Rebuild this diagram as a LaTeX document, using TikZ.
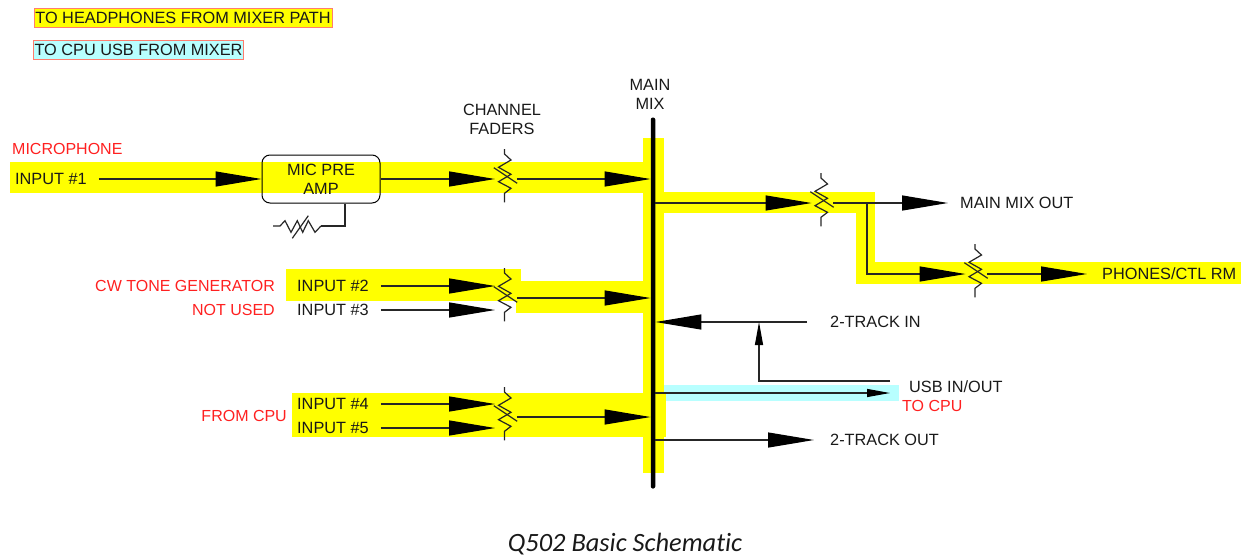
\documentclass[tikz,border=0pt]{standalone}
\usepackage{fontspec}
\setmainfont{Liberation Sans}
\newfontfamily\captionfont[Ligatures=NoCommon]{Carlito}
\usetikzlibrary{arrows.meta,positioning,calc}
\definecolor{pathyellow}{RGB}{255,255,0}
\definecolor{pathcyan}{RGB}{184,255,255}
\definecolor{legendedge}{RGB}{255,125,110}
\definecolor{labelred}{RGB}{255,32,32}
\newcommand{\fader}[3]{%
	\node [faderbox] (#1) at (#2+1.5,#3) {};
	\draw [wire, shift={(#2,#3)}] (0,-30) -- (0,-25) -- (6.5,-19) -- (-6,-11.7) -- (6.5,-4.7) -- (-6,2.7) -- (6.5,9.3) -- (0,14.3) -- (0,23.3);
	\draw [wire, shift={(#2,#3)}] (-10.7,-11.3) -- (12.7,4.3);
}
\begin{document}
\begin{tikzpicture}[x=1pt, y=-1pt,
		every node/.style={font=\fontsize{16.3}{19}\selectfont, text=black!90},
		wire/.style={line width=1.2pt, draw=black!85},
		bigarrow/.style={wire, -{Triangle[length=46pt,width=15pt,black]}},
		smallarrow/.style={wire, -{Triangle[length=23pt,width=8pt,black]}},
		band/.style={fill=pathyellow},
		usbband/.style={fill=pathcyan},
		faderbox/.style={rectangle, inner sep=0pt, minimum width=21.5pt, minimum height=40pt},
		inlabel/.style={anchor=west, inner ysep=0pt, inner xsep=12pt},
		outlabel/.style={anchor=west, inner ysep=0pt},
		redlabel/.style={inner sep=0pt, text=labelred, font=\fontsize{16}{19}\selectfont},
		legend/.style={rectangle, inner sep=0pt, minimum height=19pt, line width=1pt, draw=legendedge},
		ampbox/.style={rectangle, draw, line width=1pt, rounded corners=8pt, align=center, minimum width=118pt, minimum height=48pt, inner sep=0pt},
		busbar/.style={rectangle, fill=black, rounded corners=2pt, inner sep=0pt, minimum width=4.5pt, minimum height=371pt}]

	\useasboundingbox (0,0) rectangle (1244,557);

	\fill [usbband] (660,385) rectangle (899,401);
	\fill [band] (10,162) rectangle (643,193);
	\fill [band] (286,269) rectangle (521,301);
	\fill [band] (516,281) rectangle (643,313);
	\fill [band] (292,393) rectangle (666,437);
	\fill [band] (643,138) rectangle (664,473);
	\fill [band] (664,192) rectangle (875,213);
	\fill [band] (856,192) rectangle (875,284);
	\fill [band] (856,262) rectangle (1241,284);

	\node [legend, fill=pathyellow, minimum width=298pt] (legendphones) at (183,18) {TO HEADPHONES FROM MIXER PATH};
	\node [legend, fill=pathcyan, minimum width=210pt] (legendusb) at (138.5,50) {TO CPU USB FROM MIXER};

	\node [busbar] (mainbus) at (653,303) {};
	\node [align=center, inner sep=0pt] (mainmix) at (650,94) {MAIN\\MIX};
	\node [align=center, inner sep=0pt] (channelfaders) at (502,119) {CHANNEL\\FADERS};

	\node [redlabel, anchor=west] (microphone) at (12,148.5) {MICROPHONE};
	\node [redlabel, anchor=east] (cwtone) at (275,285.5) {CW TONE GENERATOR};
	\node [redlabel, anchor=east] (notused) at (275,309.5) {NOT USED};
	\node [redlabel, anchor=east] (fromcpu) at (287,415.5) {FROM CPU};
	\node [redlabel, anchor=west] (tocpu) at (902,405.5) {TO CPU};

	\node [inlabel] (input1) at (3,179) {INPUT \#1};
	\node [inlabel] (input2) at (285,286) {INPUT \#2};
	\node [inlabel] (input3) at (285,310) {INPUT \#3};
	\node [inlabel] (input4) at (285,404) {INPUT \#4};
	\node [inlabel] (input5) at (285,428) {INPUT \#5};

	\node [ampbox] (preamp) at (321,179) {MIC PRE\\AMP};

	\fader{fader1}{504.5}{179}
	\fader{fader2}{504.5}{298}
	\fader{fader3}{504.5}{417}
	\fader{fader4}{821}{203}
	\fader{fader5}{975}{274}

	\node [outlabel, inner xsep=12pt] (mainout) at (948,203) {MAIN MIX OUT};
	\node [outlabel, inner xsep=15pt] (phones) at (1087,274) {PHONES/CTL RM};
	\node [outlabel, inner xsep=23pt] (trackin) at (807,322) {2-TRACK IN};
	\node [outlabel, inner xsep=19pt] (usbio) at (890,387) {USB IN/OUT};
	\node [outlabel, inner xsep=16pt] (trackout) at (814,440) {2-TRACK OUT};

	\coordinate (split) at (867,203);
	\coordinate (tap) at (759,322);
	\coordinate (usbreturn) at (890,381);
	\coordinate (usbsend) at (890,393);
	\coordinate (gaincorner) at (345,226);
	\node [inner sep=0pt, minimum width=48pt, minimum height=12pt] (gainres) at (297,226) {};

	\draw [bigarrow] (input1.east) -- (input1.east -| preamp.west);
	\draw [bigarrow] (preamp.east) -- (preamp.east -| fader1.west);
	\draw [bigarrow] (fader1.east) -- (fader1.east -| mainbus.west);
	\draw [bigarrow] (input2.east) -- (input2.east -| fader2.west);
	\draw [bigarrow] (input3.east) -- (input3.east -| fader2.west);
	\draw [bigarrow] (fader2.east) -- (fader2.east -| mainbus.west);
	\draw [bigarrow] (input4.east) -- (input4.east -| fader3.west);
	\draw [bigarrow] (input5.east) -- (input5.east -| fader3.west);
	\draw [bigarrow] (fader3.east) -- (fader3.east -| mainbus.west);

	\draw [bigarrow] (fader4.west -| mainbus.east) -- (fader4.west);
	\draw [bigarrow] (fader4.east) -- (mainout.west);
	\draw [bigarrow] (split) |- (fader5.west);
	\draw [bigarrow] (fader5.east) -- (phones.west);
	\draw [bigarrow] (trackin.west) -- (trackin.west -| mainbus.east);
	\draw [bigarrow] (trackout.west -| mainbus.east) -- (trackout.west);
	\draw [smallarrow] (usbreturn) -| (tap);
	\draw [smallarrow] (usbsend -| mainbus.east) -- (usbsend);

	\draw [wire] (gaincorner |- preamp.south) -- (gaincorner) -- (gainres.east);
	\draw [wire, shift={(gainres.center)}] (-24,0) -- (-17,0) -- (-12,-5.3) -- (-6,6.3) -- (0.3,-5.3) -- (5.7,6.3) -- (11.3,-5.3) -- (18,6.3) -- (24,0);
	\draw [wire, shift={(gainres.center)}] (-4.7,12.3) -- (11.3,-10.3);

	\node [inner sep=0pt, font=\captionfont\itshape\fontsize{26.4}{30}\selectfont] (caption) at (625,544) {Q502 Basic Schematic};

\end{tikzpicture}
\end{document}
